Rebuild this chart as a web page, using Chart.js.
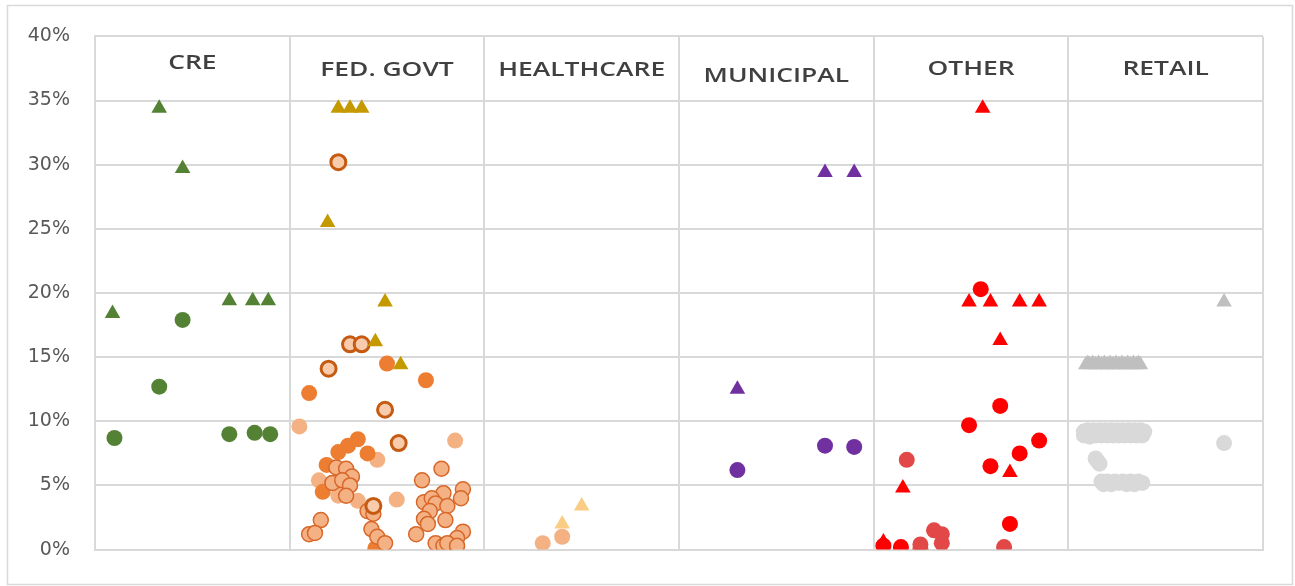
<!DOCTYPE html>
<html>
<head>
<meta charset="utf-8">
<script src="https://cdn.jsdelivr.net/npm/chart.js@4/dist/chart.umd.min.js"></script>
<style>
html,body{margin:0;padding:0;background:#fff;}
#c{display:block;}
</style>
</head>
<body>
<canvas id="c" width="1295" height="586"></canvas>
<script>
// ---- DATA ----
const categories = ['CRE', 'FED. GOVT', 'HEALTHCARE', 'MUNICIPAL', 'OTHER', 'RETAIL'];
const yMin = 0, yMax = 40, yStep = 5; // percent

// [position inside category panel (0-1), value %]
const creTriangles = [[0.09,18.4],[0.33,34.4],[0.45,29.7],[0.69,19.4],[0.81,19.4],[0.89,19.4]];
const creCircles   = [[0.10,8.7],[0.33,12.7],[0.45,17.9],[0.69,9.0],[0.82,9.1],[0.90,9.0]];

const fedTriangles = [[0.25,34.4],[0.31,34.4],[0.37,34.4],[0.195,25.5],[0.49,19.3],[0.44,16.2],[0.57,14.4]];
const fedRings     = [[0.25,30.2],[0.31,16.0],[0.37,16.0],[0.20,14.1],[0.49,10.9],[0.56,8.3],[0.43,3.4]];
const fedOrange    = [[0.10,12.2],[0.50,14.5],[0.70,13.2],[0.35,8.6],[0.30,8.1],[0.25,7.6],[0.40,7.5],[0.19,6.6],[0.22,5.2],[0.17,4.5],[0.44,0.1]];
const fedPeach     = [[0.05,9.6],[0.85,8.5],[0.45,7.0],[0.15,5.4],[0.25,4.2],[0.35,3.8],[0.55,3.9]];
const fedPeachRim  = [[0.24,6.4],[0.29,6.3],[0.32,5.7],[0.22,5.2],[0.27,5.4],[0.31,5.0],[0.29,4.2],[0.40,3.0],[0.43,2.8],
                      [0.16,2.3],[0.10,1.2],[0.13,1.3],[0.42,1.6],[0.45,1.0],[0.49,0.5],[0.78,6.3],[0.68,5.4],[0.79,4.4],
                      [0.89,4.7],[0.88,4.0],[0.69,3.7],[0.73,4.0],[0.75,3.6],[0.81,3.4],[0.72,3.0],[0.69,2.4],[0.80,2.3],
                      [0.71,2.0],[0.65,1.2],[0.89,1.4],[0.86,0.9],[0.75,0.5],[0.79,0.3],[0.81,0.5],[0.86,0.3]];

const hcTriangles  = [[0.40,2.0],[0.50,3.4]];
const hcCircles    = [[0.30,0.5],[0.40,1.0]];

const munTriangles = [[0.75,29.4],[0.90,29.4],[0.30,12.5]];
const munCircles   = [[0.30,6.2],[0.75,8.1],[0.90,8.0]];

const othTriangles = [[0.56,34.4],[0.49,19.3],[0.60,19.3],[0.75,19.3],[0.85,19.3],[0.65,16.3],[0.70,6.0],[0.15,4.8],[0.05,0.6]];
const othCircles   = [[0.55,20.3],[0.65,11.2],[0.49,9.7],[0.85,8.5],[0.75,7.5],[0.60,6.5],[0.14,0.2],[0.70,2.0],[0.05,0.3]];
const othDark      = [[0.17,7.0],[0.24,0.4],[0.24,0.0],[0.31,1.5],[0.35,1.2],[0.35,0.5],[0.67,0.2]];

const retTriangles = [[0.09,14.4],[0.10,14.5],[0.11,14.4],[0.125,14.5],[0.14,14.4],[0.155,14.5],[0.17,14.4],[0.185,14.5],
                      [0.20,14.4],[0.215,14.5],[0.23,14.4],[0.245,14.5],[0.26,14.4],[0.275,14.5],[0.29,14.4],[0.305,14.5],
                      [0.32,14.4],[0.335,14.5],[0.35,14.4],[0.36,14.5],[0.37,14.4],[0.80,19.3]];
const retCircles   = [[0.08,9.2],[0.08,8.9],[0.10,9.3],[0.11,8.8],[0.13,9.3],[0.14,8.9],[0.16,9.3],[0.17,8.9],[0.19,9.3],
                      [0.20,8.9],[0.22,9.3],[0.23,8.9],[0.25,9.3],[0.26,8.9],[0.28,9.3],[0.29,8.9],[0.31,9.3],[0.32,8.9],
                      [0.34,9.3],[0.35,8.9],[0.37,9.3],[0.38,8.9],[0.39,9.2],
                      [0.14,7.1],[0.15,6.9],[0.16,6.7],
                      [0.17,5.3],[0.18,5.1],[0.20,5.3],[0.22,5.1],[0.24,5.3],[0.26,5.2],[0.28,5.3],[0.30,5.1],[0.32,5.3],
                      [0.34,5.1],[0.36,5.3],[0.38,5.2],[0.80,8.3]];

// ---- BUILD ----
function pts(catIndex, arr) { return arr.map(p => ({x: catIndex + p[0], y: p[1]})); }
function ds(cat, arr, style) {
  return Object.assign({data: pts(cat, arr), showLine: false, pointHoverRadius: 0}, style);
}
const tri = (c) => ({pointStyle: 'triangle', pointRadius: 9, pointBackgroundColor: c, pointBorderColor: c, pointBorderWidth: 0});
const dot = (c) => ({pointStyle: 'circle', pointRadius: 8, pointBackgroundColor: c, pointBorderColor: c, pointBorderWidth: 0});

// listed bottom-most first; reversed later so that later ones paint on top
const layers = [
  ds(0, creCircles, dot('#548235')),
  ds(0, creTriangles, tri('#548235')),
  ds(1, fedPeach, dot('#F4B183')),
  ds(1, fedOrange, dot('#ED7D31')),
  ds(1, fedPeachRim, {pointStyle:'circle', pointRadius: 7.5, pointBackgroundColor:'#F4B183', pointBorderColor:'#D8672A', pointBorderWidth: 1.5}),
  ds(1, fedRings, {pointStyle:'circle', pointRadius: 7.5, pointBackgroundColor:'#F8CBAD', pointBorderColor:'#C55A11', pointBorderWidth: 3}),
  ds(1, fedTriangles, tri('#C49A00')),
  ds(2, hcCircles, dot('#F4B183')),
  ds(2, hcTriangles, tri('#FACD85')),
  ds(3, munCircles, dot('#7030A0')),
  ds(3, munTriangles, tri('#7030A0')),
  ds(4, othDark, dot('#E24848')),
  ds(4, othCircles, dot('#FF0000')),
  ds(4, othTriangles, tri('#FF0000')),
  ds(5, retCircles, dot('#D9D9D9')),
  ds(5, retTriangles, tri('#BFBFBF')),
];
const datasets = layers.slice().reverse();

const frameAndLabels = {
  id: 'frameAndLabels',
  beforeDraw(chart) {
    const ctx = chart.ctx;
    ctx.save();
    ctx.fillStyle = '#ffffff';
    ctx.fillRect(0, 0, chart.width, chart.height);
    ctx.strokeStyle = '#D9D9D9';
    ctx.lineWidth = 1.5;
    ctx.strokeRect(7.5, 5.5, 1285, 579);
    ctx.restore();
  },
  afterDatasetsDraw(chart) {
    const ctx = chart.ctx;
    const xs = chart.scales.x, ys = chart.scales.y;
    const yOff = [-6, 1, 1, 7, 0, 0];
    ctx.save();
    ctx.fillStyle = '#404040';
    ctx.font = '600 20px "Open Sans"';
    ctx.textAlign = 'center';
    ctx.textBaseline = 'middle';
    categories.forEach((name, i) => {
      const cx = (xs.getPixelForValue(i) + xs.getPixelForValue(i + 1)) / 2;
      const cy = ys.getPixelForValue(37.5) + 1 + yOff[i];
      ctx.save();
      ctx.translate(cx, cy);
      ctx.scale(1.32, 1);
      ctx.fillText(name, 0, 0);
      ctx.restore();
    });
    ctx.restore();
  }
};

new Chart(document.getElementById('c'), {
  type: 'scatter',
  data: { datasets },
  options: {
    responsive: false,
    animation: false,
    events: [],
    layout: { padding: { top: 35, right: 32, left: 0, bottom: 0 } },
    plugins: { legend: { display: false }, tooltip: { enabled: false } },
    scales: {
      x: {
        type: 'linear', min: 0, max: categories.length,
        ticks: { display: false, stepSize: 1 },
        grid: { color: '#D9D9D9', lineWidth: 2, drawTicks: false },
        border: { color: '#D9D9D9', width: 2 },
        afterFit(s) { s.height = 28; }
      },
      y: {
        min: yMin, max: yMax,
        ticks: { stepSize: yStep, padding: 25, color: '#595959',
                 font: { family: '"DejaVu Sans"', size: 19 },
                 callback: v => v + '%' },
        grid: { color: '#D9D9D9', lineWidth: 2, drawTicks: false },
        border: { color: '#D9D9D9', width: 2 },
        afterFit(s) { s.width = 95; }
      }
    }
  },
  plugins: [frameAndLabels]
});
</script>
</body>
</html>
